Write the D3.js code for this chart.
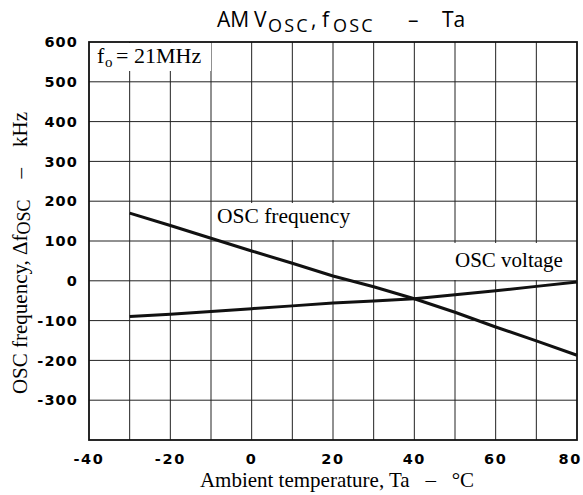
<!DOCTYPE html>
<html><head><meta charset="utf-8">
<script src="https://cdn.jsdelivr.net/npm/d3@7"></script>
<style>body{margin:0;background:#fff}svg{display:block}</style>
</head><body><svg id="c" width="583" height="495"></svg>
<script>
const temps = [-30, -20, -10, 0, 10, 20, 30, 40, 50, 60, 70, 80];
const oscFrequency = [170, 139, 107, 75, 44, 12, -15, -45, -79, -116, -151, -187];
const oscVoltage = [-90, -84, -77, -70, -63, -56, -51, -45, -35, -25, -14, -3];
const xTicks = [-40, -20, 0, 20, 40, 60, 80];
const yTicks = [-300, -200, -100, 0, 100, 200, 300, 400, 500, 600];

const svg = d3.select('#c');
const L = 89, R = 577, T = 42, B = 440;
const x = d3.scaleLinear().domain([-40, 80]).range([L, R]);
const y = d3.scaleLinear().domain([-400, 600]).range([B, T]);
const serif = '"Liberation Serif", "Times New Roman", serif';
const sans = '"DejaVu Sans", sans-serif';

// grid
const g = svg.append('g');
g.selectAll('.vx').data(d3.range(-30, 80, 10)).join('line')
  .attr('x1', d => x(d)).attr('x2', d => x(d)).attr('y1', T).attr('y2', B)
  .attr('stroke', '#222').attr('stroke-width', 1);
g.selectAll('.hy').data(d3.range(-300, 600, 100)).join('line')
  .attr('y1', d => y(d)).attr('y2', d => y(d)).attr('x1', L).attr('x2', R)
  .attr('stroke', '#222').attr('stroke-width', 1);

// label boxes (white)
function box(x0, y0, w, h) {
  svg.append('rect').attr('x', x0).attr('y', y0).attr('width', w).attr('height', h).attr('fill', '#fff');
}
box(L + 1, T + 1, 121, 28);
box(212, 203, 138, 37);
box(453, 243, 123, 37);

// frame
svg.append('rect').attr('x', L).attr('y', T).attr('width', R - L).attr('height', B - T)
  .attr('fill', 'none').attr('stroke', '#111').attr('stroke-width', 1.8);

// series
const line = d3.line().x(d => x(d[0])).y(d => y(d[1]));
[oscFrequency, oscVoltage].forEach(s => {
  svg.append('path').datum(temps.map((t, i) => [t, s[i]])).attr('d', line)
    .attr('fill', 'none').attr('stroke', '#111').attr('stroke-width', 3).attr('stroke-linejoin', 'round');
});

// axis tick labels
svg.selectAll('.yt').data(yTicks).join('text')
  .attr('x', 78).attr('y', d => y(d)).attr('dy', '0.36em').attr('text-anchor', 'end')
  .attr('font-family', sans).attr('font-weight', 'bold').attr('font-size', 14.5).attr('letter-spacing', 1.1)
  .text(d => d < 0 ? '-' + Math.abs(d) : d);
svg.selectAll('.xt').data(xTicks).join('text')
  .attr('x', d => d === 80 ? 582 : x(d)).attr('y', 464)
  .attr('text-anchor', d => d === 80 ? 'end' : 'middle')
  .attr('font-family', sans).attr('font-weight', 'bold').attr('font-size', 14.5).attr('letter-spacing', 1.6)
  .text(d => d < 0 ? '-' + Math.abs(d) : d);

// title
const title = svg.append('text').attr('y', 27)
  .attr('font-family', '"Open Sans", sans-serif').attr('font-size', 21);
title.append('tspan').attr('x', 217).text('AM');
title.append('tspan').attr('x', 254).text('V');
title.append('tspan').attr('x', 268).attr('dy', 5).attr('font-size', 18).attr('letter-spacing', 2.2).text('OSC');
title.append('tspan').attr('x', 311).attr('dy', -5).text(',');
title.append('tspan').attr('x', 322).text('f');
title.append('tspan').attr('x', 333).attr('dy', 5).attr('font-size', 18).attr('letter-spacing', 2.2).text('OSC');
title.append('tspan').attr('x', 408).attr('dy', -5).text('–');
title.append('tspan').attr('x', 442).text('Ta');

// annotations
const f0 = svg.append('text').attr('y', 63).attr('font-family', serif).attr('font-size', 22);
f0.append('tspan').attr('x', 97).text('f');
f0.append('tspan').attr('x', 105).attr('font-size', 15).attr('dy', 4).text('o');
f0.append('tspan').attr('x', 116).attr('dy', -4).text('=');
f0.append('tspan').attr('x', 134).text('21MHz');

svg.append('text').attr('x', 217).attr('y', 223).attr('font-family', serif).attr('font-size', 21.5).text('OSC frequency');
svg.append('text').attr('x', 455).attr('y', 267).attr('font-family', serif).attr('font-size', 21).text('OSC voltage');

// axis titles
svg.append('text').attr('x', 337).attr('y', 487).attr('text-anchor', 'middle')
  .attr('font-family', serif).attr('font-size', 21).attr('xml:space', 'preserve')
  .text('Ambient temperature, Ta   –   °C');

const yl = svg.append('text').attr('transform', 'translate(27,253) rotate(-90)').attr('text-anchor', 'middle')
  .attr('font-family', serif).attr('font-size', 21).attr('xml:space', 'preserve');
yl.append('tspan').text('OSC frequency, Δf');
yl.append('tspan').attr('font-size', 18).attr('dy', 3).text('OSC');
yl.append('tspan').attr('dy', -3).text('    –    kHz');
</script></body></html>
